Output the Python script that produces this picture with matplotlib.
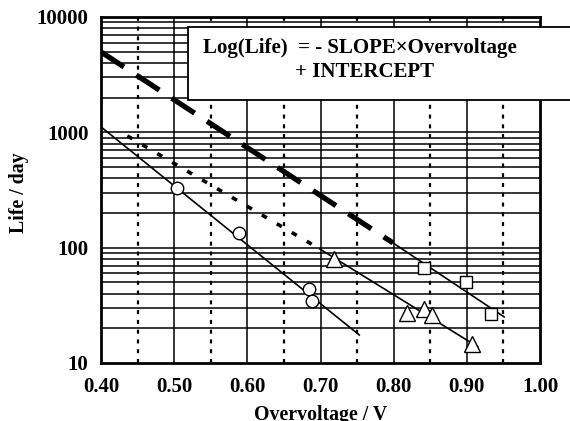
import matplotlib
matplotlib.use("Agg")
import matplotlib.pyplot as plt
from matplotlib.patches import Rectangle

# ---------------------------------------------------------------------------
# Data
# ---------------------------------------------------------------------------
circle_x = [0.504, 0.589, 0.684, 0.688]
circle_y = [330, 134, 44, 34.5]
tri_x = [0.718, 0.818, 0.841, 0.852, 0.907]
tri_y = [80, 27.2, 29.4, 26.1, 14.6]
square_x = [0.841, 0.899, 0.933]
square_y = [66.7, 50.5, 26.6]

# fitted lines (solid part) and their extrapolations
circle_fit_x = [0.40, 0.753]
circle_fit_y = [1115, 17.5]
tri_fit_x = [0.699, 0.915]
tri_fit_y = [97.5, 13.8]
tri_ext_x = [0.436, 0.699]
tri_ext_y = [931, 97.5]
square_fit_x = [0.799, 0.951]
square_fit_y = [110, 25.1]
square_ext_x = [0.40, 0.799]
square_ext_y = [4980, 110]

x_ticks = [0.40, 0.50, 0.60, 0.70, 0.80, 0.90, 1.00]
x_dotted = [0.45, 0.55, 0.65, 0.75, 0.85, 0.95]
y_ticks = [10, 100, 1000, 10000]

plt.rcParams["font.family"] = ["Liberation Serif", "DejaVu Serif"]
plt.rcParams["font.weight"] = "bold"

fig = plt.figure(figsize=(5.70, 4.21), dpi=100)
ax = fig.add_axes([101 / 570, 58 / 421, 439 / 570, 346 / 421])

ax.set_yscale("log")
ax.set_xlim(0.40, 1.00)
ax.set_ylim(10, 10000)

# grid
for v in x_ticks[1:-1]:
    ax.axvline(v, color="black", lw=1.1, zorder=1)
for v in x_dotted:
    ax.axvline(v, color="black", lw=1.6, ls=(0, (1.8, 2.6)), zorder=1)
for dec in [10, 100, 1000]:
    for m in range(1, 10):
        if dec * m > 10:
            ax.axhline(dec * m, color="black", lw=1.1, zorder=1)

# fit lines
ax.plot(circle_fit_x, circle_fit_y, color="black", lw=1.2, zorder=2)
ax.plot(tri_fit_x, tri_fit_y, color="black", lw=1.2, zorder=2)
ax.plot(tri_ext_x, tri_ext_y, color="black", lw=2.6, ls=(0, (1.6, 3.2)), zorder=2)
ax.plot(square_fit_x, square_fit_y, color="black", lw=1.2, zorder=2)
ax.plot(square_ext_x, square_ext_y, color="black", lw=3.8, ls=(0, (5.2, 2.8)), zorder=2)

# data points
ax.plot(circle_x, circle_y, "o", ms=9, mfc="white", mec="black", mew=1.0, zorder=3)
ax.plot(tri_x, tri_y, "^", ms=11, mfc="white", mec="black", mew=1.0, zorder=3)
ax.plot(square_x, square_y, "s", ms=8.5, mfc="white", mec="black", mew=1.0, zorder=3)

ax.set_xticks(x_ticks)
ax.set_xticklabels([f"{v:.2f}" for v in x_ticks])
ax.set_yticks(y_ticks)
ax.set_yticklabels([str(v) for v in y_ticks])
ax.yaxis.set_minor_locator(matplotlib.ticker.NullLocator())
ax.tick_params(axis="x", length=0, labelsize=15, pad=10)
ax.tick_params(axis="y", length=0, labelsize=15, pad=9)
for lab in ax.get_xticklabels() + ax.get_yticklabels():
    lab.set_fontweight("bold")

for s in ax.spines.values():
    s.set_linewidth(2.0)
    s.set_zorder(4)

# axis titles placed by hand (the x one is cut by the bottom edge, as in the original)
fig.text(321 / 570, 1 / 421, "Overvoltage / V", fontsize=14.3, fontweight="bold",
         ha="center", va="baseline")
fig.text(19 / 570, 1 - 193 / 421, "Life / day", fontsize=14.3, fontweight="bold",
         ha="center", va="center", rotation=90)

# equation box
box = Rectangle((188 / 570, 1 - 100 / 421), 0.8, 73 / 421, transform=fig.transFigure,
                facecolor="white", edgecolor="black", lw=1.3, zorder=5)
fig.patches.append(box)
fig.text(203 / 570, 1 - 48 / 421, "Log(Life)  = - SLOPE\u00d7Overvoltage",
         fontsize=15, fontweight="bold", va="center", ha="left", zorder=6)
fig.text(295 / 570, 1 - 72 / 421, "+ INTERCEPT",
         fontsize=15, fontweight="bold", va="center", ha="left", zorder=6)

fig.savefig("out.png", dpi=100)
